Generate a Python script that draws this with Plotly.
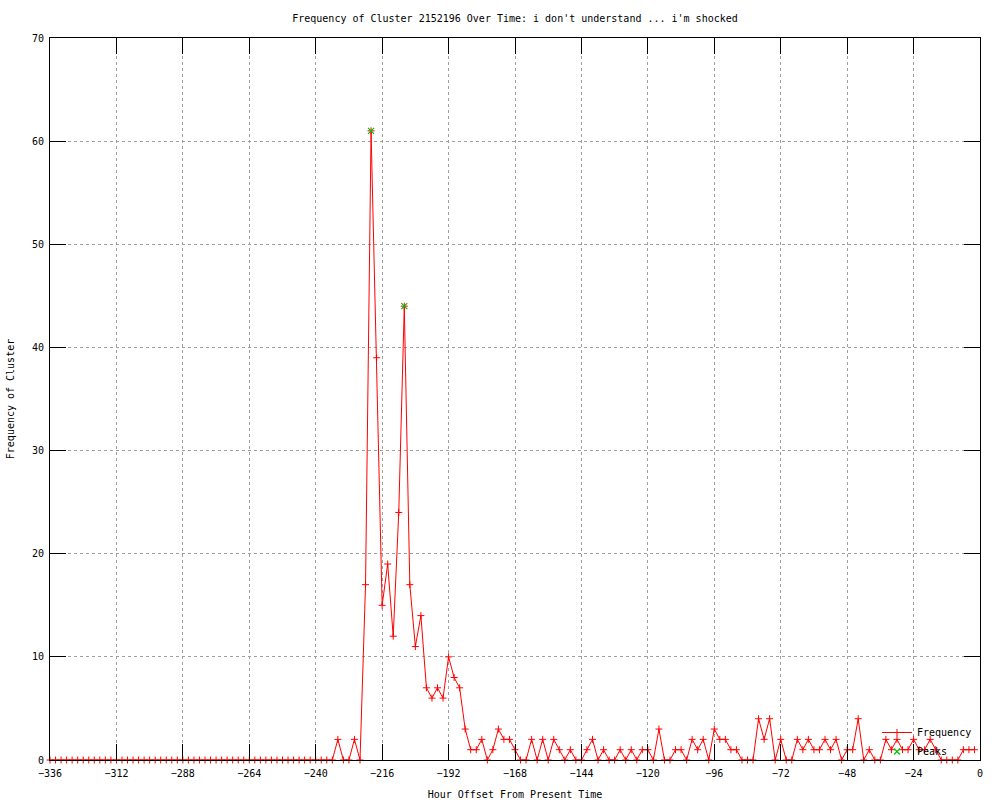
import plotly.graph_objects as go

# ---- data ----
hours = list(range(-336, 0, 2))  # -336 .. -2 step 2
freq = [0] * 49 + [  # -336 .. -240 all zero
    0, 0, 0, 2, 0, 0, 2, 0,              # -238 .. -224
    17, 61, 39, 15, 19, 12, 24, 44,      # -222 .. -208
    17, 11, 14, 7, 6, 7, 6, 10,          # -206 .. -192
    8, 7, 3, 1, 1, 2, 0, 1,              # -190 .. -176
    3, 2, 2, 1, 0, 0, 2, 0,              # -174 .. -160
    2, 0, 2, 1, 0, 1, 0, 0,              # -158 .. -144
    1, 2, 0, 1, 0, 0, 1, 0,              # -142 .. -128
    1, 0, 1, 1, 0, 3, 0, 0,              # -126 .. -112
    1, 1, 0, 2, 1, 2, 0, 3,              # -110 .. -96
    2, 2, 1, 1, 0, 0, 0, 4,              # -94 .. -80
    2, 4, 0, 2, 0, 0, 2, 1,              # -78 .. -64
    2, 1, 1, 2, 1, 2, 0, 1,              # -62 .. -48
    1, 4, 0, 1, 0, 0, 2, 1,              # -46 .. -32
    2, 1, 1, 2, 1, 1, 2, 1,              # -30 .. -16
    0, 0, 0, 0, 1, 1, 1,                 # -14 .. -2
]
peak_hours = [-220, -208]
peak_vals = [61, 44]

x_ticks = list(range(-336, 1, 24))
y_ticks = list(range(0, 71, 10))

FONT = "DejaVu Sans Mono"

fig = go.Figure()
fig.add_trace(go.Scatter(
    x=hours, y=freq, name="Frequency", mode="lines+markers",
    line=dict(color="#ff0000", width=1),
    marker=dict(symbol="cross-thin-open", size=5, color="#ff0000",
                line=dict(color="#ff0000", width=1)),
    cliponaxis=False,
))
fig.add_trace(go.Scatter(
    x=peak_hours, y=peak_vals, name="Peaks", mode="markers",
    marker=dict(symbol="x-thin-open", size=6, color="#00c000",
                line=dict(color="#00c000", width=1.2)),
    cliponaxis=False,
))

axis_common = dict(
    showline=True, linecolor="black", linewidth=1, mirror="ticks",
    ticks="inside", ticklen=16, tickcolor="black", tickwidth=1,
    showgrid=True, gridcolor="#a0a0a0", griddash="dot", gridwidth=1,
    zeroline=False, tickfont=dict(family=FONT, size=10, color="black"),
    automargin=False,
)

fig.update_layout(
    width=1000, height=800,
    paper_bgcolor="white", plot_bgcolor="white",
    margin=dict(l=50, r=20, t=38, b=40),
    font=dict(family=FONT, size=10, color="black"),
    title=dict(
        text="Frequency of Cluster 2152196 Over Time: i don't understand ... i'm shocked",
        x=0.5, xref="paper", xanchor="center",
        y=1 - 18 / 800, yref="container", yanchor="middle",
        font=dict(family=FONT, size=10, color="black"),
    ),
    xaxis=dict(range=[-336, 0], tickmode="array", tickvals=x_ticks,
               ticklabelstandoff=4,
               title=dict(text="Hour Offset From Present Time",
                          font=dict(family=FONT, size=10)),
               **axis_common),
    yaxis=dict(range=[0, 70], tickmode="array", tickvals=y_ticks,
               ticklabelstandoff=3,
               title=dict(text="Frequency of Cluster",
                          font=dict(family=FONT, size=10)),
               **axis_common),
    showlegend=True,
    legend=dict(x=(877 - 50) / 930, xanchor="left",
                y=(760 - 718) / 722, yanchor="top",
                bgcolor="rgba(0,0,0,0)", borderwidth=0,
                font=dict(family=FONT, size=10, color="black")),
)

fig.write_html("out.html", config={"displayModeBar": False},
               post_script="document.body.style.margin='0';")
